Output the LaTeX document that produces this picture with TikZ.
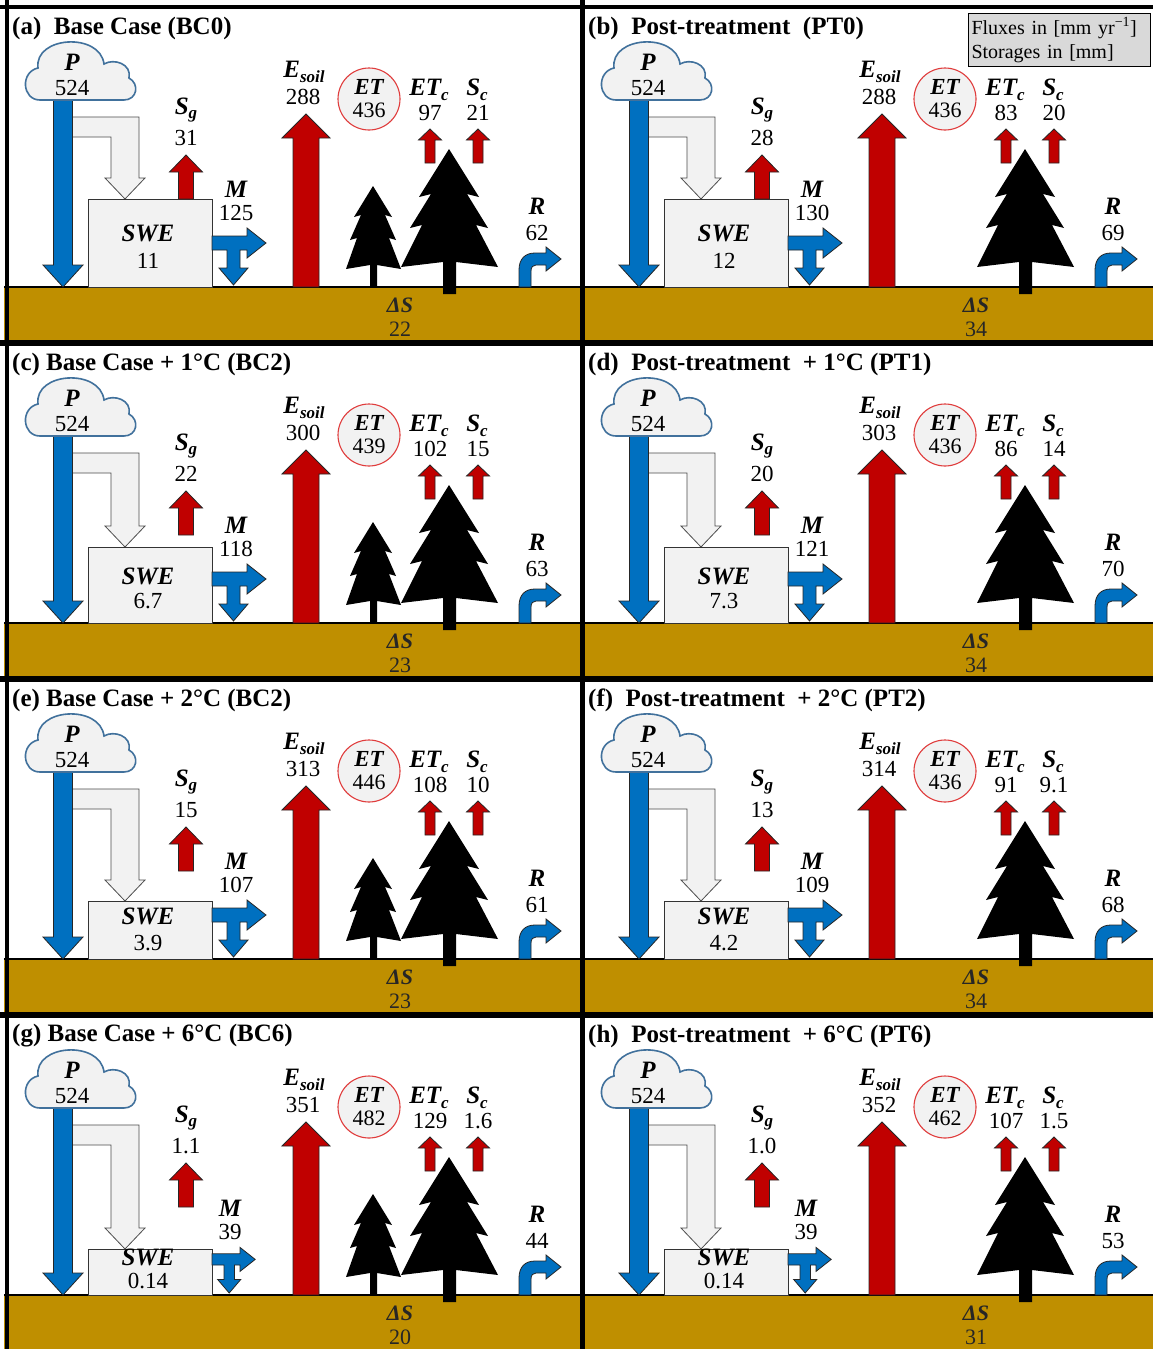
\documentclass[tikz,border=0pt]{standalone}
\usepackage{fontspec}
\setmainfont{Liberation Serif}
\definecolor{pblue}{HTML}{0070C0}
\definecolor{pred}{HTML}{C00000}
\definecolor{soil}{HTML}{BF8F00}
\definecolor{snowgray}{HTML}{F2F2F2}
\definecolor{cloudedge}{HTML}{41719C}
\definecolor{legendgray}{HTML}{D9D9D9}
\definecolor{etring}{HTML}{E03C3C}

% subscript for flux symbols
\newcommand\lsub[1]{\raisebox{-0.4ex}{\fontsize{17}{17}\selectfont #1}}

% vertical block arrow: centre x, start y, head base y, tip y, shaft width, head width, fill
\newcommand\vblock[7]{%
  \filldraw[fill=#7, blk] ({#1-#5/2},#2) -- ({#1-#5/2},#3) -- ({#1-#6/2},#3) -- (#1,#4)
    -- ({#1+#6/2},#3) -- ({#1+#5/2},#3) -- ({#1+#5/2},#2) -- cycle;}

\newif\ifsmalltree
\pgfkeys{/panel/.cd,
  title/.store in=\pTitle, sg/.store in=\pSg, m/.store in=\pM, swe/.store in=\pSWE,
  esoil/.store in=\pEsoil, et/.store in=\pET, etc/.store in=\pETc, sc/.store in=\pSc,
  r/.store in=\pR, ds/.store in=\pDS, box/.store in=\pBox, swey/.store in=\pSWEy,
  swevy/.store in=\pSWEvy, ms/.store in=\pMs, mx/.store in=\pMx, my/.store in=\pMy,
  small/.is if=smalltree}

% one water-balance panel: x offset, y offset, name prefix, values
\newcommand\drawpanel[4]{%
\begin{scope}[shift={(#1,#2)}]
  \pgfkeys{/panel/.cd, small=false, ms=1, mx=236, my=189, #4}
  % soil layer
  \fill[soil] (4,287) rectangle (582,342);
  \draw[line width=1.2pt] (4,287) -- (582,287);
  % snowfall branch into the snowpack
  \filldraw[fill=snowgray, draw=black!70, line width=0.8pt]
    (72,117) -- (139,117) -- (139,\pBox-21) -- (145,\pBox-21) -- (125,\pBox)
    -- (105,\pBox-21) -- (111,\pBox-21) -- (111,137) -- (72,137);
  % precipitation
  \vblock{63}{96}{265}{287}{19}{40}{pblue}
  \filldraw[fill=snowgray, draw=cloudedge, line width=1.6pt]
    (40,100) .. controls (22,100) and (20,72) .. (38,68)
    .. controls (34,36) and (100,32) .. (104,64)
    .. controls (114,58) and (132,64) .. (129,78)
    .. controls (140,84) and (137,100) .. (124,100) -- cycle;
  \node[lbl] (#3-P) at (72,62) {P};
  \node[val] (#3-Pv) at (72,88) {524};
  % snowpack
  \filldraw[fill=snowgray, draw=black!80, line width=0.8pt] (88,\pBox) rectangle (212,287);
  \node[lbl] (#3-swe) at (148,\pSWEy) {SWE};
  \node[val] (#3-swev) at (148,\pSWEvy) {\pSWE};
  % sublimation from the ground snowpack
  \vblock{186}{199}{172}{155}{15}{33}{pred}
  \node[lbl] (#3-sg) at (186,110) {S\lsub{g}};
  \node[val] (#3-sgv) at (186,138) {\pSg};
  % melt: to runoff and into the soil
  \begin{scope}[shift={(212,285)}, scale=\pMs]
    \filldraw[fill=pblue, blk] (0,-49) -- (35,-49) -- (35,-57) -- (54,-42) -- (35,-27)
      -- (35,-35) -- (28,-35) -- (28,-17) -- (36,-17) -- (21.5,0) -- (7,-17)
      -- (15,-17) -- (15,-35) -- (0,-35) -- cycle;
  \end{scope}
  \node[lbl] (#3-m) at (\pMx,\pMy) {M};
  \node[val] (#3-mv) at (\pMx,\pMy+24) {\pM};
  % soil evaporation
  \vblock{306}{287}{138}{114}{26}{48}{pred}
  \node[lbl] (#3-es) at (304,72) {E\lsub{soil}};
  \node[val] (#3-esv) at (303,97) {\pEsoil};
  % total evapotranspiration
  \node[circle, draw=etring, fill=snowgray, line width=1.1pt, minimum size=62pt] (#3-etring) at (369,99) {};
  \node[lbl, font=\fontsize{23}{23}\selectfont\bfseries\itshape] (#3-et) at (369,87) {ET};
  \node[val, font=\fontsize{22}{22}\selectfont] (#3-etv) at (369,110) {\pET};
  % canopy transpiration and sublimation
  \vblock{430}{163}{140}{129}{10}{23}{pred}
  \vblock{478}{163}{140}{129}{10}{23}{pred}
  \node[lbl] (#3-etc) at (429,90) {ET\lsub{c}};
  \node[val] (#3-etcv) at (430,113) {\pETc};
  \node[lbl] (#3-sc) at (477,90) {S\lsub{c}};
  \node[val] (#3-scv) at (478,113) {\pSc};
  % forest
  \ifsmalltree
  \fill (373,186) -- (392,217) -- (385,215) -- (396,240) -- (389,238) -- (401,269)
    -- (377,265) -- (377,287) -- (370,287) -- (370,265) -- (346,269) -- (357,238)
    -- (350,240) -- (361,215) -- (354,217) -- cycle;
  \fi
  \fill (449,149) -- (479,197) -- (467,194) -- (488,228) -- (476,225) -- (498,267)
    -- (456,262) -- (456,294) -- (443,294) -- (443,262) -- (401,267) -- (422,225)
    -- (410,228) -- (431,194) -- (419,197) -- cycle;
  % runoff
  \filldraw[fill=pblue, blk] (519,287) -- (519,270) .. controls (519,259) and (525,253) .. (535,253)
    -- (546,253) -- (546,247) -- (561,259) -- (546,271) -- (546,265) -- (536,265)
    .. controls (533,265) and (531,267) .. (531,271) -- (531,287) -- cycle;
  \node[lbl] (#3-r) at (537,206) {R};
  \node[val] (#3-rv) at (537,233) {\pR};
  % storage change
  \node[lbl, text=black!85, font=\fontsize{22}{22}\selectfont\bfseries\itshape] (#3-ds) at (400,305) {ΔS};
  \node[val, text=black!85, font=\fontsize{22}{22}\selectfont] (#3-dsv) at (400,329) {\pDS};
  % title
  \node[ttl] (#3-title) at (12,28) {\pTitle};
\end{scope}}

\begin{document}
\begin{tikzpicture}[x=1pt, y=-1pt,
  lbl/.style={font=\fontsize{25}{25}\selectfont\bfseries\itshape, inner sep=0pt},
  val/.style={font=\fontsize{23}{23}\selectfont, inner sep=0pt},
  ttl/.style={font=\fontsize{25}{25}\selectfont\bfseries, anchor=west, inner sep=0pt},
  blk/.style={draw=black!85, line width=0.8pt}]
\useasboundingbox (0,0) rectangle (1153,1349);
\clip (0,0) rectangle (1153,1349);
\fill[white] (0,0) rectangle (1153,1349);

\drawpanel{0}{0}{a}{title={(a)~ Base Case (BC0)}, small=true, sg=31, m=125, swe=11,
  esoil=288, et=436, etc=97, sc=21, r=62, ds=22, box=199, swey=233, swevy=261}
\drawpanel{576}{0}{b}{title={(b)~ Post-treatment~ (PT0)}, sg=28, m=130, swe=12,
  esoil=288, et=436, etc=83, sc=20, r=69, ds=34, box=199, swey=233, swevy=261}
\drawpanel{0}{336}{c}{title={(c) Base Case + 1°C (BC2)}, small=true, sg=22, m=118, swe=6.7,
  esoil=300, et=439, etc=102, sc=15, r=63, ds=23, box=211, swey=240, swevy=265}
\drawpanel{576}{336}{d}{title={(d)~ Post-treatment~ + 1°C (PT1)}, sg=20, m=121, swe=7.3,
  esoil=303, et=436, etc=86, sc=14, r=70, ds=34, box=211, swey=240, swevy=265}
\drawpanel{0}{672}{e}{title={(e) Base Case + 2°C (BC2)}, small=true, sg=15, m=107, swe=3.9,
  esoil=313, et=446, etc=108, sc=10, r=61, ds=23, box=229, swey=244, swevy=271}
\drawpanel{576}{672}{f}{title={(f)~ Post-treatment~ + 2°C (PT2)}, sg=13, m=109, swe=4.2,
  esoil=314, et=436, etc=91, sc=9.1, r=68, ds=34, box=229, swey=244, swevy=271}
\drawpanel{0}{1008}{g}{title={(g) Base Case + 6°C (BC6)}, small=true, sg=1.1, m=39, swe=0.14,
  esoil=351, et=482, etc=129, sc=1.6, r=44, ds=20, box=241, swey=249, swevy=273,
  ms=0.8, mx=230, my=200}
\drawpanel{576}{1008}{h}{title={(h)~ Post-treatment~ + 6°C (PT6)}, sg=1.0, m=39, swe=0.14,
  esoil=352, et=462, etc=107, sc=1.5, r=53, ds=31, box=241, swey=249, swevy=273,
  ms=0.8, mx=230, my=200}

% panel frame
\draw[line width=4.5pt] (0,7) -- (1153,7);
\draw[line width=4.5pt] (6.75,0) -- (6.75,1349);
\foreach \yy in {343,679,1015} \draw[line width=6pt] (0,\yy) -- (1153,\yy);
\draw[line width=5pt] (582.5,0) -- (582.5,1349);

% units
\node[draw, line width=1pt, fill=legendgray, anchor=north west, minimum width=182pt,
  minimum height=53pt, text width=176pt, align=left, inner sep=3pt,
  font=\fontsize{20}{24}\selectfont] (legend) at (968,13)
  {Fluxes in [mm yr\textsuperscript{−1}]\\Storages in [mm]};
\end{tikzpicture}
\end{document}
